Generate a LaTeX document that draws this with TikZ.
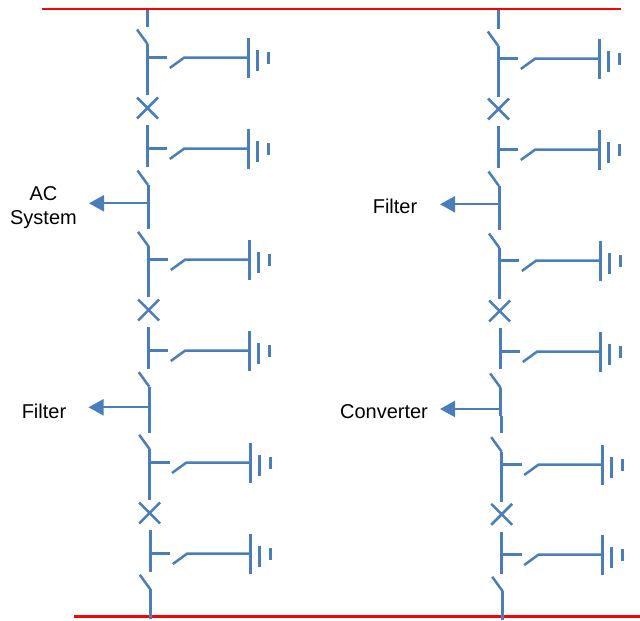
\documentclass[tikz,border=0pt]{standalone}
\usepackage{fontspec}
\setmainfont{Liberation Sans}
\usetikzlibrary{arrows.meta}
\definecolor{linkblue}{HTML}{4A7EBB}
\tikzset{
  bus/.style={draw=red,line width=2pt},
  busfat/.style={draw=red,line width=3pt},
  main/.style={draw=linkblue,line width=3pt},
  thin/.style={draw=linkblue,line width=2.5pt},
  feeder/.style={draw=linkblue,line width=2.2pt,-{Triangle[length=15pt,width=16pt]}},
  lab/.style={inner sep=0pt,align=center,text=black,font=\fontsize{20}{24}\selectfont}
}
% \blade{x of the bus-side pin}{y of pin}: open switch blade running up and left
\newcommand{\myblade}[2]{\draw[thin] (#1-10.5,#2-14.5) -- (#1,#2);}
% \mycross{x}{y}: breaker cross
\newcommand{\mycross}[2]{\draw[thin] (#1-10.5,#2-10.5) -- (#1+10.5,#2+10.5) (#1-10.5,#2+10.5) -- (#1+10.5,#2-10.5);}
% \myearth{xv}{y}{xb}: stub, open switch, wire and three-plate earth
\newcommand{\myearth}[3]{%
  \draw[thin] (#1,#2) -- (#1+20,#2);
  \draw[thin] (#1+22.5,#2+10.5) -- (#1+37,#2) -- (#3,#2);
  \draw[main] (#3,#2-20) -- (#3,#2+20);
  \draw[main] (#3+9,#2-8) -- (#3+9,#2+13);
  \draw[main] (#3+20.5,#2-5.5) -- (#3+20.5,#2+6.5);
}
\begin{document}
\begin{tikzpicture}[x=1pt,y=-1pt]
\useasboundingbox (0,0) rectangle (640,621);
\coordinate (topL) at (42,9);
\coordinate (topR) at (621,9);
\coordinate (botL) at (74,616.5);
\coordinate (botR) at (640,616.5);
\draw[bus] (topL) -- (topR);
\draw[busfat] (botL) -- (botR);

% ---------- left column
\draw[main] (147.3,10) -- (147.3,26.7);
\myblade{147.5}{44}
\draw[main] (147.3,44) -- (147.3,95);
\myearth{147.3}{57.5}{248.3}
\mycross{147.5}{108}
\draw[main] (147.3,125) -- (147.3,166.7);
\myearth{147.3}{148.5}{248.3}
\myblade{148}{185}
\draw[main] (148.3,185) -- (148.3,229);
\coordinate (acS) at (148,203.3);
\coordinate (acT) at (89,203.3);
\draw[feeder] (acS) -- (acT);
\myblade{148.5}{246.3}
\draw[main] (148.3,246.3) -- (148.3,296.7);
\myearth{148.3}{259.5}{249.3}
\mycross{148.7}{310}
\draw[main] (148.3,327.3) -- (148.3,369);
\myearth{148.3}{350.5}{249.3}
\myblade{149.3}{386.7}
\draw[main] (149.5,386.7) -- (149.5,432.7);
\coordinate (fiS) at (149,407.3);
\coordinate (fiT) at (88.5,407.3);
\draw[feeder] (fiS) -- (fiT);
\myblade{149.7}{449.3}
\draw[main] (149.5,449.3) -- (149.5,500);
\myearth{149.5}{462.5}{250.3}
\mycross{149.7}{513}
\draw[main] (150.3,530) -- (150.3,572);
\myearth{150.3}{553.5}{250.3}
\myblade{150.3}{589.3}
\draw[main] (150.7,589.3) -- (150.7,618.5);

% ---------- right column
\draw[main] (498.3,10) -- (498.3,29);
\myblade{498.3}{46}
\draw[main] (498.3,46) -- (498.3,96.7);
\myearth{498.3}{58.5}{599.3}
\mycross{498.5}{109}
\draw[main] (498.3,126) -- (498.3,167.7);
\myearth{498.3}{149.5}{599.3}
\myblade{499}{186}
\draw[main] (499.3,186) -- (499.3,230);
\coordinate (frS) at (499,204.3);
\coordinate (frT) at (440,204.3);
\draw[feeder] (frS) -- (frT);
\myblade{499.5}{248}
\draw[main] (499.3,248) -- (499.3,299);
\myearth{499.3}{260.5}{600.3}
\mycross{499.7}{311}
\draw[main] (500.3,328.3) -- (500.3,369.3);
\myearth{500.3}{351.5}{600.3}
\myblade{500.7}{388}
\draw[main] (500.7,388) -- (500.7,416);
\coordinate (coS) at (500,409);
\coordinate (coT) at (440,409);
\draw[feeder] (coS) -- (coT);
\draw[main] (501.7,416) -- (501.7,433.3);
\myblade{501.7}{451.7}
\draw[main] (501.7,451.7) -- (501.7,501.7);
\myearth{501.7}{464.5}{602.3}
\mycross{501.7}{514.3}
\draw[main] (501.7,532.3) -- (501.7,573.7);
\myearth{501.7}{554.5}{602.3}
\myblade{502.7}{591.3}
\draw[main] (502.7,591.3) -- (502.7,619.5);

% ---------- labels
\node[lab] (ac) at (43.5,208) {AC\\System};
\node[lab] (filterL) at (44,411) {Filter};
\node[lab] (filterR) at (395,206) {Filter};
\node[lab] (conv) at (384,412) {Converter};
\end{tikzpicture}
\end{document}
